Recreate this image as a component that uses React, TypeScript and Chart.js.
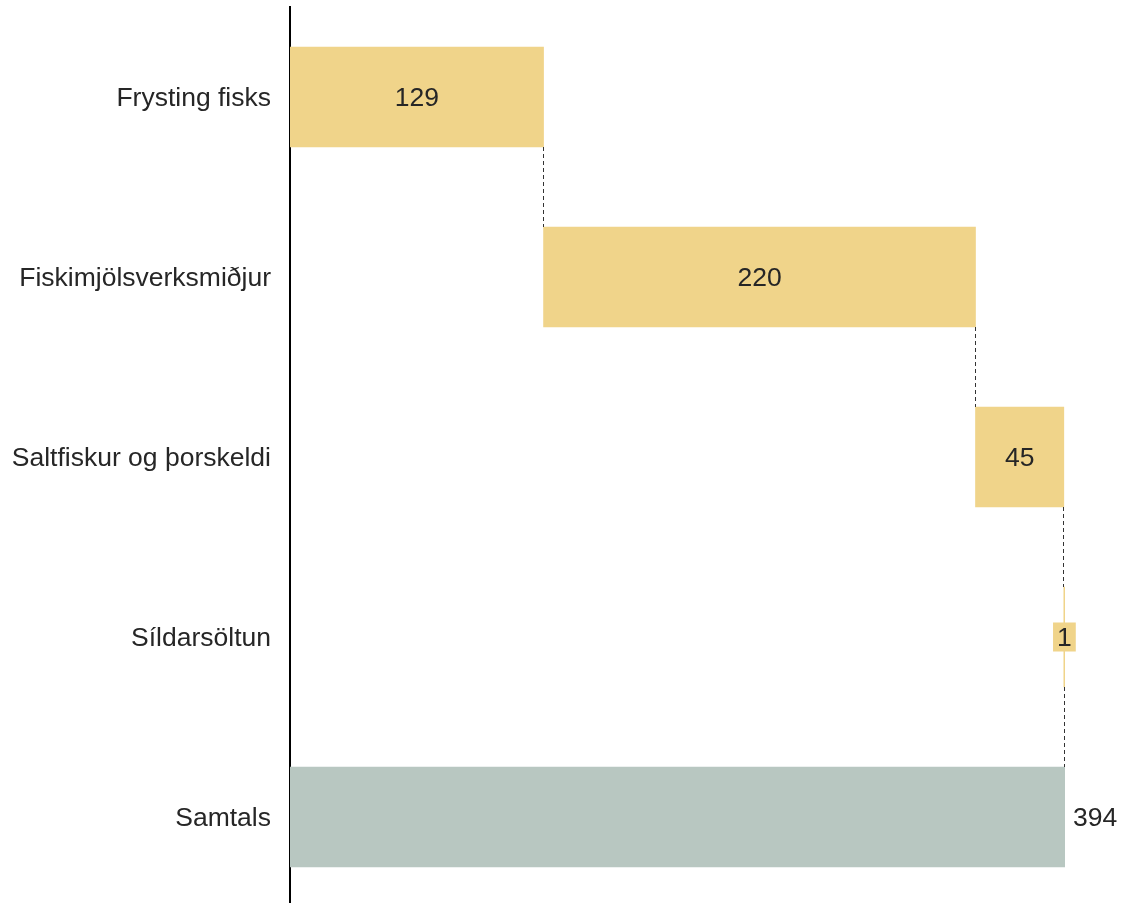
import React, { useEffect, useRef } from "react";
import { Chart, registerables } from "chart.js";

Chart.register(...registerables);

const categories = [
  "Frysting fisks",
  "Fiskimjölsverksmiðjur",
  "Saltfiskur og þorskeldi",
  "Síldarsöltun",
  "Samtals",
];
const stepValues = [128.9, 219.6, 44.9, 0.6];
const totalLabel = "Samtals";

const FONT = "Liberation Sans, Arimo, Helvetica, sans-serif";
const FONT_SIZE = 26.5;
const YELLOW = "#F0D48A";
const GREY = "#B8C7C1";
const TEXT = "#262626";

export default function App() {
  const ref = useRef<HTMLCanvasElement | null>(null);

  useEffect(() => {
    if (!ref.current) return;
    const starts: number[] = [];
    const ends: number[] = [];
    let acc = 0;
    stepValues.forEach((v) => {
      starts.push(acc);
      acc += v;
      ends.push(acc);
    });
    const total = acc;
    const data = [
      ...stepValues.map((_, i) => [starts[i], ends[i]]),
      [0, total],
    ];
    const labelsTxt = [
      ...stepValues.map((v) => String(Math.round(v))),
      String(Math.round(total)),
    ];
    const colors = categories.map((c) => (c === totalLabel ? GREY : YELLOW));

    const annotate = {
      id: "waterfallLabels",
      afterDatasetsDraw(chart: any) {
        const ctx = chart.ctx;
        const meta = chart.getDatasetMeta(0);
        const bars = meta.data;
        ctx.save();
        ctx.strokeStyle = "#333";
        ctx.lineWidth = 1;
        ctx.setLineDash([4, 3]);
        for (let i = 0; i < bars.length - 1; i++) {
          const b = bars[i];
          const n = bars[i + 1];
          const x = Math.round(b.x) - 0.5;
          ctx.beginPath();
          ctx.moveTo(x, b.y + b.height / 2);
          ctx.lineTo(x, n.y - n.height / 2);
          ctx.stroke();
        }
        ctx.setLineDash([]);
        ctx.font = `${FONT_SIZE}px ${FONT}`;
        ctx.textBaseline = "middle";
        bars.forEach((b: any, i: number) => {
          const txt = labelsTxt[i];
          const w = Math.abs(b.x - b.base);
          const tw = ctx.measureText(txt).width;
          if (categories[i] === totalLabel) {
            ctx.fillStyle = TEXT;
            ctx.textAlign = "left";
            ctx.fillText(txt, b.x + 8, b.y + 2);
          } else if (w < tw + 10) {
            const cx = (b.x + b.base) / 2;
            const bw = tw + 8;
            const bh = 29;
            ctx.fillStyle = YELLOW;
            ctx.fillRect(cx - bw / 2, b.y - bh / 2, bw, bh);
            ctx.fillStyle = TEXT;
            ctx.textAlign = "center";
            ctx.fillText(txt, cx, b.y + 2);
          } else {
            ctx.fillStyle = TEXT;
            ctx.textAlign = "center";
            ctx.fillText(txt, (b.x + b.base) / 2, b.y + 2);
          }
        });
        ctx.restore();
      },
    };

    const chart = new Chart(ref.current, {
      type: "bar",
      data: {
        labels: categories,
        datasets: [
          {
            data: data as any,
            backgroundColor: colors,
            borderWidth: 0,
            barThickness: 100,
          },
        ],
      },
      options: {
        indexAxis: "y",
        animation: false,
        responsive: false,
        maintainAspectRatio: false,
        layout: { padding: { top: 7, bottom: 3, left: 0, right: 57 } },
        plugins: {
          legend: { display: false },
          tooltip: { enabled: false },
        },
        scales: {
          x: {
            display: false,
            min: 0,
            max: total,
          },
          y: {
            afterFit(scale: any) {
              scale.width = 290;
              scale.paddingTop = 0;
              scale.paddingBottom = 0;
            },
            grid: { display: false, drawTicks: false },
            border: { display: true, color: "#000", width: 2 },
            ticks: {
              padding: 19,
              labelOffset: 2,
              color: TEXT,
              font: { family: FONT, size: FONT_SIZE },
            },
          },
        },
      },
      plugins: [annotate],
    });
    return () => chart.destroy();
  }, []);

  return (
    <div
      style={{
        position: "fixed",
        left: 0,
        top: 0,
        width: 1122,
        height: 903,
        overflow: "hidden",
        background: "#fff",
      }}
    >
      <canvas ref={ref} width={1122} height={910} style={{ display: "block" }} />
    </div>
  );
}
